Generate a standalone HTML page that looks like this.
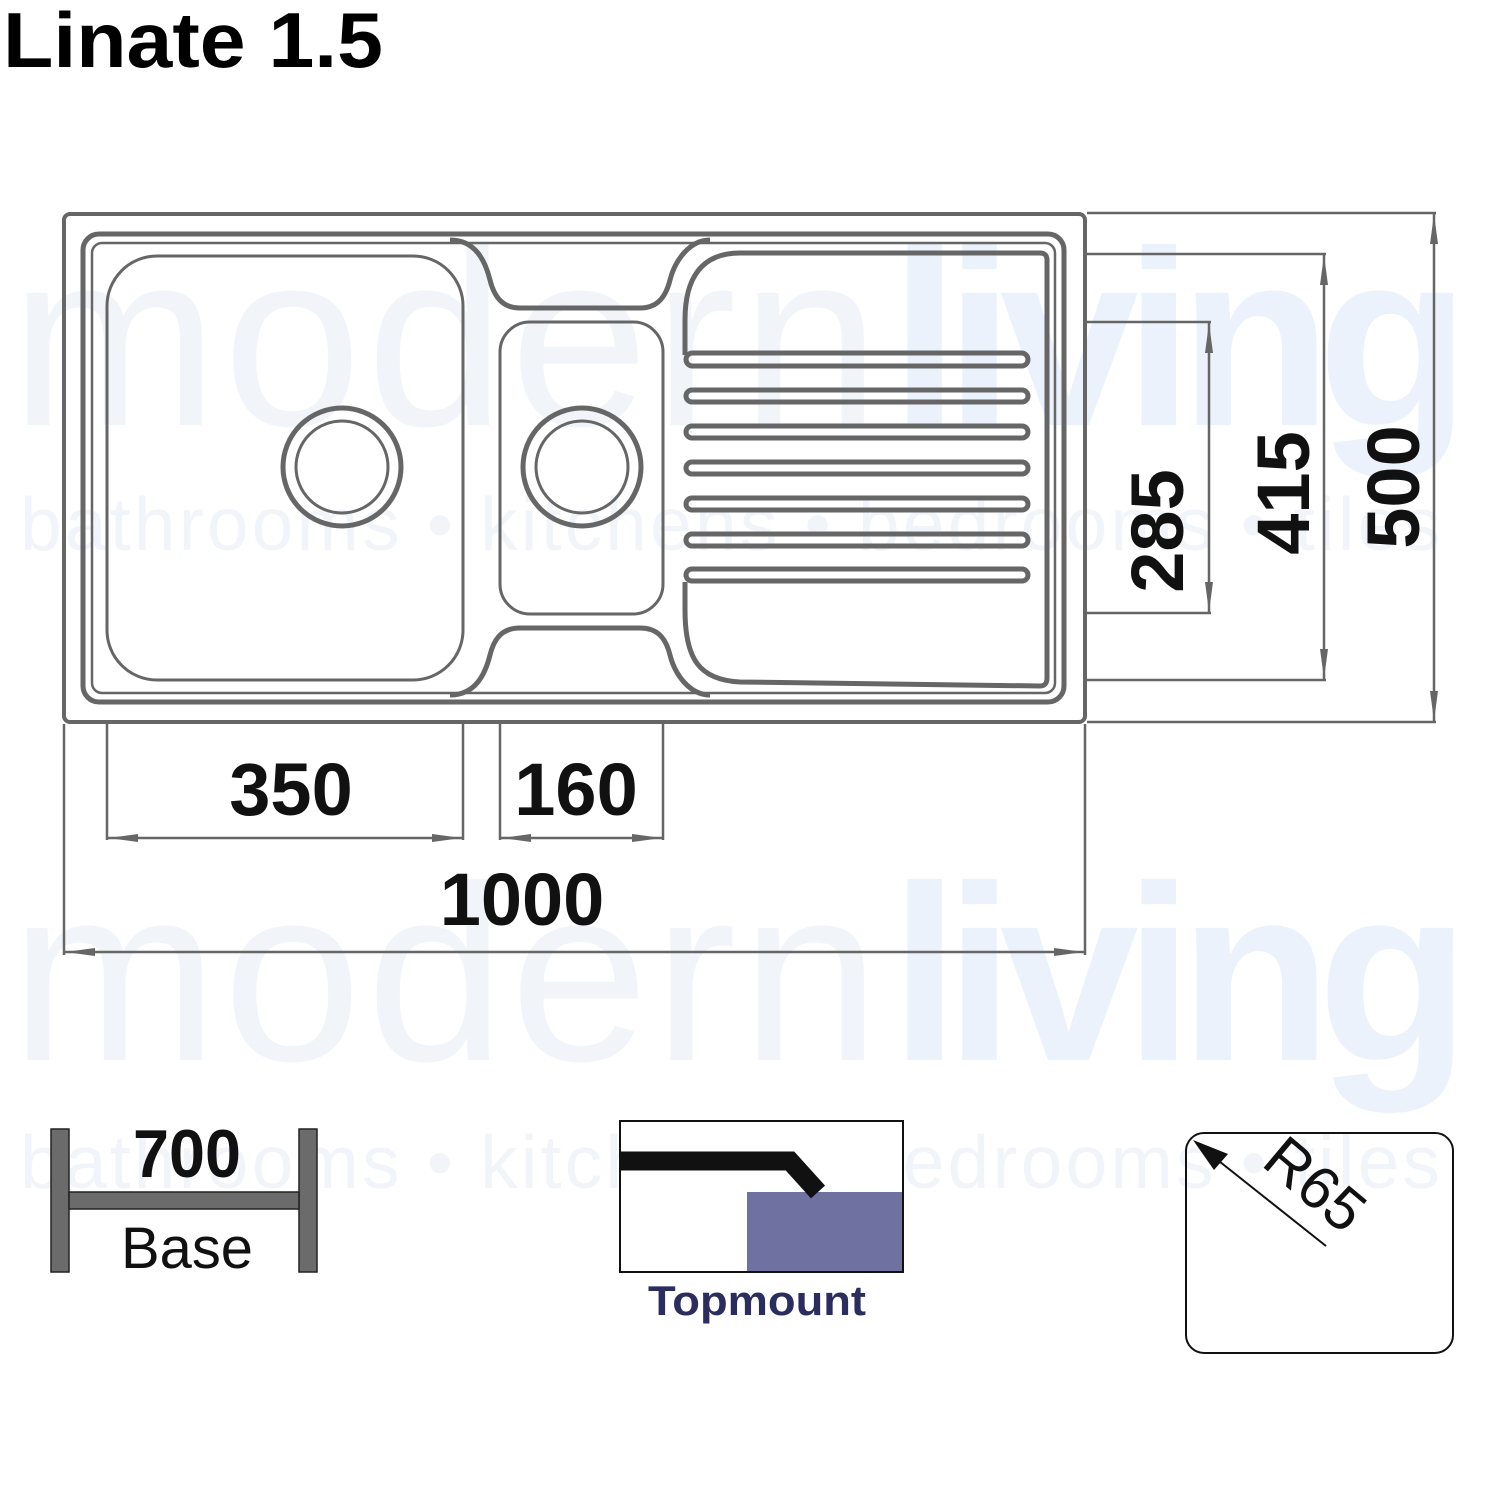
<!DOCTYPE html>
<html><head><meta charset="utf-8"><style>
html,body{margin:0;padding:0;background:#fff;}
svg{display:block;}
</style></head><body>
<svg width="1500" height="1500" viewBox="0 0 1500 1500" xmlns="http://www.w3.org/2000/svg">
<defs>
<marker id="ar" viewBox="0 0 30 10" refX="30" refY="5" markerWidth="30" markerHeight="10" markerUnits="userSpaceOnUse" orient="auto-start-reverse">
<path d="M0,1 L30,5 L0,9 z" fill="#666"/></marker>
</defs>
<!-- watermark -->
<g font-family="Liberation Sans, sans-serif" fill="#f1f4f9">
<text x="10" y="425" font-size="250" textLength="870">modern</text>
<text x="890" y="425" font-size="250" font-weight="bold" fill="#ecf2fb" textLength="580">living</text>
<text x="20" y="550" font-size="75" textLength="1420">bathrooms • kitchens • bedrooms • tiles</text>
<text x="10" y="1060" font-size="250" textLength="870">modern</text>
<text x="890" y="1060" font-size="250" font-weight="bold" fill="#ecf2fb" textLength="580">living</text>
<text x="20" y="1188" font-size="75" textLength="1420">bathrooms • kitchens • bedrooms • tiles</text>
</g>
<!-- title -->
<text x="3" y="67" font-family="Liberation Sans, sans-serif" font-weight="bold" font-size="78" fill="#000" textLength="380" lengthAdjust="spacingAndGlyphs">Linate 1.5</text>
<!-- sink -->
<g fill="none" stroke="#666">
<rect x="64" y="214" width="1021" height="508" rx="6" stroke-width="4"/>
<rect x="83" y="234" width="981" height="468" rx="16" stroke-width="5"/>
<rect x="92" y="243" width="963" height="450" rx="10" stroke-width="2.5"/>
<rect x="107" y="256" width="356" height="424" rx="50" stroke-width="3"/>
<path d="M450,240 C475,240 485,260 490,280 C495,300 505,308 520,308 L640,308 C655,308 665,300 670,280 C675,260 690,240 710,240" stroke-width="5"/>
<path d="M450,695 C475,695 485,675 490,655 C495,635 505,628 520,628 L640,628 C655,628 665,635 670,655 C675,675 690,695 710,695" stroke-width="5"/>
<rect x="500" y="322" width="163" height="292" rx="30" stroke-width="3"/>
<circle cx="342" cy="467" r="59" stroke-width="5"/>
<circle cx="342" cy="467" r="46" stroke-width="3"/>
<circle cx="582" cy="467" r="59" stroke-width="5"/>
<circle cx="582" cy="467" r="46" stroke-width="3"/>
<path d="M685,355 L685,320 C685,280 700,253 740,253 L1040,253 Q1047,253 1047,260 L1047,678 Q1047,686 1040,686 L740,682 C700,680 685,660 685,610 L685,582" stroke-width="5"/>
<g stroke-width="5">
<rect x="686" y="353" width="342" height="13" rx="6.5"/>
<rect x="686" y="390" width="342" height="12" rx="6"/>
<rect x="686" y="426" width="342" height="12" rx="6"/>
<rect x="686" y="462" width="342" height="12" rx="6"/>
<rect x="686" y="498" width="342" height="12" rx="6"/>
<rect x="686" y="534" width="342" height="12" rx="6"/>
<rect x="686" y="569" width="342" height="12" rx="6"/>
</g>
</g>
<!-- dimensions -->
<g stroke="#666" stroke-width="2.5" fill="none">
<line x1="1087" y1="213" x2="1436" y2="213"/>
<line x1="1087" y1="722" x2="1436" y2="722"/>
<line x1="1434" y1="214" x2="1434" y2="721" marker-start="url(#ar)" marker-end="url(#ar)"/>
<line x1="1087" y1="254" x2="1326" y2="254"/>
<line x1="1087" y1="680" x2="1326" y2="680"/>
<line x1="1324" y1="255" x2="1324" y2="679" marker-start="url(#ar)" marker-end="url(#ar)"/>
<line x1="1087" y1="322" x2="1211" y2="322"/>
<line x1="1087" y1="613" x2="1211" y2="613"/>
<line x1="1209" y1="323" x2="1209" y2="612" marker-start="url(#ar)" marker-end="url(#ar)"/>
<line x1="107" y1="724" x2="107" y2="840"/>
<line x1="463" y1="724" x2="463" y2="840"/>
<line x1="108" y1="838" x2="462" y2="838" marker-start="url(#ar)" marker-end="url(#ar)"/>
<line x1="500" y1="724" x2="500" y2="840"/>
<line x1="663" y1="724" x2="663" y2="840"/>
<line x1="501" y1="838" x2="662" y2="838" marker-start="url(#ar)" marker-end="url(#ar)"/>
<line x1="64" y1="724" x2="64" y2="955"/>
<line x1="1085" y1="724" x2="1085" y2="955"/>
<line x1="65" y1="952" x2="1084" y2="952" marker-start="url(#ar)" marker-end="url(#ar)"/>
</g>
<g font-family="Liberation Sans, sans-serif" font-weight="bold" font-size="74" fill="#111" text-anchor="middle">
<text x="291" y="815">350</text>
<text x="576" y="815">160</text>
<text x="522" y="925">1000</text>
<text transform="translate(1183,531) rotate(-90)">285</text>
<text transform="translate(1309,493) rotate(-90)">415</text>
<text transform="translate(1419,487) rotate(-90)">500</text>
</g>
<!-- base icon -->
<g fill="#6b6b6b" stroke="#222" stroke-width="1.5">
<rect x="51" y="1129" width="18" height="143"/>
<rect x="299" y="1129" width="18" height="143"/>
<rect x="69" y="1192" width="230" height="17"/>
</g>
<text x="187" y="1177" font-family="Liberation Sans, sans-serif" font-weight="bold" font-size="68" text-anchor="middle" fill="#111" textLength="108" lengthAdjust="spacingAndGlyphs">700</text>
<text x="187" y="1268" font-family="Liberation Sans, sans-serif" font-size="58" text-anchor="middle" fill="#111" textLength="132" lengthAdjust="spacingAndGlyphs">Base</text>
<!-- topmount -->
<rect x="620" y="1121" width="283" height="151" fill="#fff" stroke="#111" stroke-width="2"/>
<rect x="747" y="1192" width="155" height="79" fill="#6f72a0"/>
<path d="M620,1161 L790,1161 L818,1192" fill="none" stroke="#111" stroke-width="19"/>
<text x="757" y="1315" font-family="Liberation Sans, sans-serif" font-weight="bold" font-size="42" text-anchor="middle" fill="#2b2d5e" textLength="218" lengthAdjust="spacingAndGlyphs">Topmount</text>
<!-- R65 -->
<rect x="1186" y="1133" width="267" height="220" rx="18" fill="none" stroke="#111" stroke-width="2"/>
<line x1="1326" y1="1246" x2="1200" y2="1146" stroke="#111" stroke-width="2"/>
<path d="M1193,1140 L1228,1154 L1214,1170 z" fill="#111"/>
<text transform="translate(1302,1200) rotate(40)" font-family="Liberation Sans, sans-serif" font-size="60" text-anchor="middle" fill="#111">R65</text>
</svg>
</body></html>
